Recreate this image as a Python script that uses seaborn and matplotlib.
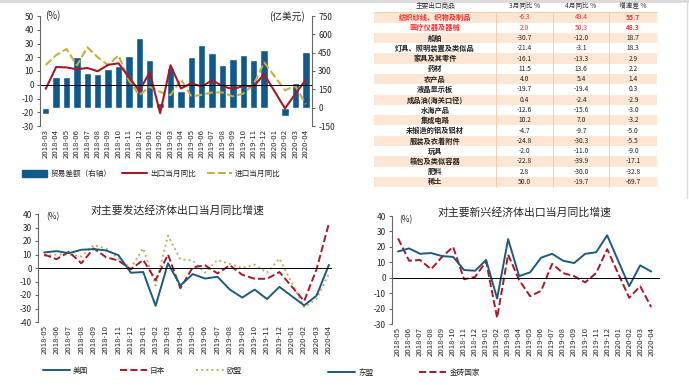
import numpy as np
import pandas as pd
import matplotlib
matplotlib.use('Agg')
import matplotlib.pyplot as plt
from matplotlib.patches import Patch, Rectangle
from matplotlib.lines import Line2D
import seaborn as sns

sns.set_style('white')
plt.rcParams['font.family'] = ['Noto Sans CJK SC', 'DejaVu Sans']
plt.rcParams['axes.unicode_minus'] = False

W, H = 689, 385
BLUE = '#0F5A8A'
RED = '#A8182A'
GOLD = '#C8AE3A'
NAVY = '#1D5B7C'
OLIVE = '#B9B25E'
GRAY = '#666666'

# ---- top-left: trade balance / export & import yoy
months_top = list(pd.period_range('2018-03', '2020-04', freq='M').strftime('%Y-%m'))
balance = [-50, 252, 249, 416, 280, 279, 316, 340, 425, 570, 392, 41, 327, 138,
           417, 510, 451, 348, 397, 428, 387, 468, np.nan, -71, 199, 453]
export_yoy = [-3.0, 12.9, 12.6, 11.2, 12.2, 9.8, 14.5, 15.6, 5.4, -4.4, 9.1, -20.7, 14.2,
              -2.7, 1.1, -1.3, 3.3, -1.0, -3.2, -0.9, -1.1, 7.6, np.nan, -17.2, -6.6, 3.5]
import_yoy = [14.4, 21.5, 26.0, 14.1, 27.3, 20.0, 14.3, 21.4, 3.0, -7.6, -1.5, -5.2, -7.6,
              4.0, -8.5, -7.3, -5.6, -5.6, -8.5, -6.4, 0.3, 16.3, np.nan, -4.0, -0.9, -14.2]

# ---- bottom: exports by destination
months_bot = list(pd.period_range('2018-05', '2020-04', freq='M').strftime('%Y-%m'))
us = [11.5, 12.5, 11, 13.5, 14, 13, 9.5, -3.5, -3, -28, 3.5, -13, -4.5, -7.8, -6.5, -16,
      -21.9, -16, -23, -14, np.nan, -27.7, -20.5, 2.3]
japan = [10, 6.5, 12, 3.5, 14.5, 8, 5.5, -1, 6, -9, 10, -15, 0.5, 2, -4, 2, -5, -8, -8, -3,
         np.nan, -24.5, -1, 33]
eu = [9, 10, 10, 8.5, 17, 14.5, 7, 0, 14.5, -13, 24, 6.5, 5.5, -3.5, 6, 3, 0, 2.5, -3.5, 7,
      np.nan, -29, -23, -4]
asean = [17, 19, 15.5, 16, 14, 13.5, 5, 4.5, 11.5, -13.5, 25, 1, 3.5, 13, 15.5, 11, 9.5, 15.5,
         16.5, 27.5, np.nan, -5.5, 8, 4]
brics = [25.5, 11, 11.5, 5.5, 13.5, 20, -1, 0.5, 10.5, -26, 15, -1.5, -12, -8.5, 9, 3, 1, -3, 3,
         18.5, np.nan, -13, -5.5, -19]

# ---- table
tab_header = ['主要出口商品', '3月同比 %', '4月同比 %', '增速差 %']
goods = ['纺织纱线、织物及制品', '医疗仪器及器械', '船舶', '灯具、照明装置及类似品', '家具及其零件',
         '药材', '农产品', '液晶显示板', '成品油(海关口径)', '水海产品', '集成电路',
         '未锻造的铝及铝材', '服装及衣着附件', '玩具', '箱包及类似容器', '肥料', '稀土']
mar_yoy = [-6.3, 2.0, -30.7, -21.4, -16.1, 11.5, 4.0, -19.7, 0.4, -12.6, 10.2, -4.7, -24.8,
           -2.0, -22.8, 2.8, 50.0]
apr_yoy = [49.4, 50.3, -12.0, -3.1, -13.3, 13.6, 5.4, -19.4, -2.4, -15.6, 7.0, -9.7, -30.3,
           -11.0, -39.9, -30.0, -19.7]
diff = [55.7, 48.3, 18.7, 18.3, 2.9, 2.2, 1.4, 0.3, -2.9, -3.0, -3.2, -5.0, -5.5, -9.0, -17.1,
        -32.8, -69.7]


def rect(x0, y0, x1, y1):
    return [x0 / W, 1 - y1 / H, (x1 - x0) / W, (y1 - y0) / H]


def style_left(ax, lo, hi, step):
    ax.set_ylim(lo, hi)
    ax.set_yticks(np.arange(lo, hi + 1, step))
    for s in ['top', 'right', 'bottom']:
        ax.spines[s].set_visible(False)
    ax.spines['left'].set_color(GRAY)
    ax.spines['left'].set_linewidth(0.8)
    ax.tick_params(axis='y', direction='out', length=2.5, width=0.8, color=GRAY, pad=2,
                   labelsize=6, left=True)
    ax.set_ylabel('')
    ax.set_xlabel('')


def month_ticks(ax, labels):
    ax.set_xticks(np.arange(len(labels)))
    ax.set_xticklabels(labels, rotation=90, fontsize=5.6)
    ax.tick_params(axis='x', length=0, pad=2)


def put_legend(handles, labels, x_px, y_px, spacing, hl=3.55):
    fig.legend(handles, labels, loc='center left', bbox_to_anchor=(x_px / W, 1 - y_px / H),
               ncol=len(handles), frameon=False, fontsize=5.5, handlelength=hl,
               handleheight=0.9, columnspacing=spacing, handletextpad=0.4,
               borderpad=0, borderaxespad=0)


fig = plt.figure(figsize=(W / 100, H / 100), dpi=100)

# ============ top-left chart ============
pos = np.arange(len(months_top))
ax_bar = fig.add_axes(rect(40, 16, 312, 126))
sns.barplot(x=pos, y=balance, native_scale=True, color=BLUE, saturation=1, width=0.72,
            ax=ax_bar)
ax_line = ax_bar.twinx()
ax_bar.yaxis.tick_right()
ax_line.yaxis.tick_left()
ax_line.yaxis.set_label_position('left')

ax_bar.set_ylim(-150, 750)
ax_bar.set_yticks(np.arange(-150, 751, 150))
for s in ['top', 'left', 'bottom']:
    ax_bar.spines[s].set_visible(False)
ax_bar.spines['right'].set_color(GRAY)
ax_bar.spines['right'].set_linewidth(0.8)
ax_bar.tick_params(axis='y', direction='out', length=2.5, width=0.8, color=GRAY, pad=2,
                   labelsize=6, right=True, left=False)
ax_bar.set_ylabel('')

sns.lineplot(x=pos, y=import_yoy, ax=ax_line, color=GOLD, lw=1.5, linestyle='--')
sns.lineplot(x=pos, y=export_yoy, ax=ax_line, color=RED, lw=1.5)
ax_line.axhline(0, color='black', lw=0.7)
style_left(ax_line, -30, 50, 10)
month_ticks(ax_bar, months_top)
ax_bar.set_xlim(-0.55, 25.6)
ax_bar.set_xlabel('')

fig.text(45 / W, 1 - 16 / H, '(%)', fontsize=7, va='center')
fig.text(305 / W, 1 - 17 / H, '(亿美元)', fontsize=7, va='center', ha='right')

put_legend([Patch(facecolor=BLUE, edgecolor=BLUE),
            Line2D([], [], color=RED, lw=1.5),
            Line2D([], [], color=GOLD, lw=1.5, ls='--')],
           ['贸易差额（右轴）', '出口当月同比', '进口当月同比'], 22, 174, 1.4, hl=3.3)

# ============ bottom-left chart ============
pos_b = np.arange(len(months_bot))
ax_dev = fig.add_axes(rect(38, 214, 332, 322))
sns.lineplot(x=pos_b, y=eu, ax=ax_dev, color=OLIVE, lw=1.4, linestyle=':')
sns.lineplot(x=pos_b, y=japan, ax=ax_dev, color=RED, lw=1.4, linestyle='--')
sns.lineplot(x=pos_b, y=us, ax=ax_dev, color=NAVY, lw=1.4)
ax_dev.axhline(0, color='black', lw=0.7)
style_left(ax_dev, -40, 40, 10)
month_ticks(ax_dev, months_bot)
ax_dev.set_xlim(-0.5, 23.25)
fig.text(178 / W, 1 - 210 / H, '对主要发达经济体出口当月同比增速', fontsize=7.8,
         ha='center', va='center')
fig.text(46 / W, 1 - 217 / H, '(%)', fontsize=6, va='center')
put_legend([Line2D([], [], color=NAVY, lw=1.4),
            Line2D([], [], color=RED, lw=1.4, ls='--'),
            Line2D([], [], color=OLIVE, lw=1.4, ls=':')],
           ['美国', '日本', '欧盟'], 43, 371, 4.1)

# ============ bottom-right chart ============
ax_em = fig.add_axes(rect(392, 216, 660, 324))
sns.lineplot(x=pos_b, y=brics, ax=ax_em, color=RED, lw=1.4, linestyle='--')
sns.lineplot(x=pos_b, y=asean, ax=ax_em, color=NAVY, lw=1.4)
ax_em.axhline(0, color='black', lw=0.7)
style_left(ax_em, -30, 40, 10)
month_ticks(ax_em, months_bot)
ax_em.set_xlim(-0.55, 23.8)
fig.text(525 / W, 1 - 212 / H, '对主要新兴经济体出口当月同比增速', fontsize=7.8,
         ha='center', va='center')
fig.text(399 / W, 1 - 220 / H, '(%)', fontsize=6, va='center')
put_legend([Line2D([], [], color=NAVY, lw=1.4),
            Line2D([], [], color=RED, lw=1.4, ls='--')],
           ['东盟', '金砖国家'], 328, 373, 6.0)

# ============ table (pixel overlay) ============
ov = fig.add_axes([0, 0, 1, 1])
ov.set_xlim(0, W)
ov.set_ylim(H, 0)
ov.axis('off')
ov.patch.set_visible(False)

# frame lines of the screenshot
ov.plot([0, W], [0.8, 0.8], color='#d9d9d9', lw=2)
ov.plot([687, 687], [0, 198], color='#dcdcdc', lw=1)

col_edges = [374, 496, 553, 609, 657]
col_mid = [(col_edges[i] + col_edges[i + 1]) / 2 for i in range(4)]
row_top = 12.3
row_h = 10.28
PEACH = '#FDE6D3'
LINE = '#F3C9A8'
for j, t in enumerate(tab_header):
    ov.text(col_mid[j], 6, t, ha='center', va='center', fontsize=4.8, color='#333333')
for i in range(len(goods)):
    y0 = row_top + i * row_h
    if i % 2 == 0:
        ov.add_patch(Rectangle((col_edges[0], y0), col_edges[-1] - col_edges[0], row_h,
                               facecolor=PEACH, edgecolor='none'))
    c = '#FF2A2A' if i < 2 else '#222222'
    vals = [goods[i], f'{mar_yoy[i]:.1f}', f'{apr_yoy[i]:.1f}', f'{diff[i]:.1f}']
    for j, v in enumerate(vals):
        bold = (j == 0) or (j == 3 and i < 2)
        ov.text(col_mid[j], y0 + row_h / 2, v, ha='center', va='center',
                fontsize=5.2 if j == 0 else 4.8,
                color=c, fontweight='bold' if bold else 'normal')
tab_bottom = row_top + len(goods) * row_h
for x in col_edges[1:-1]:
    ov.plot([x, x], [row_top, tab_bottom], color=LINE, lw=0.6)
ov.plot([col_edges[0], col_edges[-1]], [row_top, row_top], color=LINE, lw=0.6)

fig.savefig('out.png', dpi=100)
